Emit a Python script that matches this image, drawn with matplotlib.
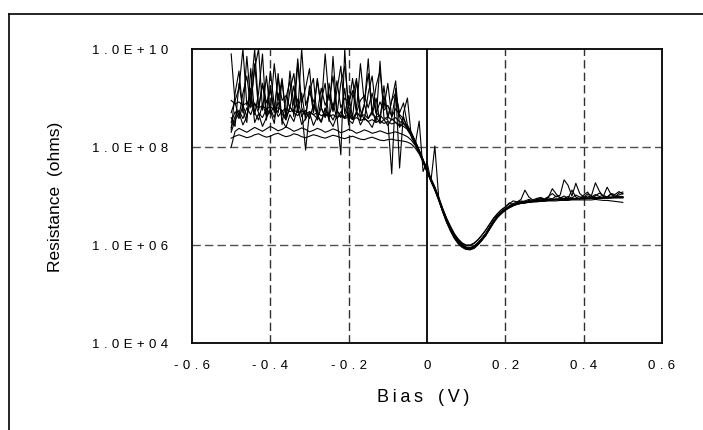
import matplotlib.pyplot as plt
import numpy as np
from matplotlib.lines import Line2D
from matplotlib.ticker import NullLocator

plt.rcParams['font.family'] = ['Liberation Sans', 'DejaVu Sans']

# bias sweep, 0.01 V steps
bias = np.linspace(-0.5, 0.5, 101)

# log10(resistance / ohms) of each sweep
sweep_1 = [8.18, 8.22, 8.25, 8.22, 8.19, 8.21, 8.25, 8.27, 8.23, 8.20,
           8.22, 8.26, 8.28, 8.24, 8.21, 8.23, 8.27, 8.25, 8.21, 8.19,
           8.22, 8.25, 8.23, 8.20, 8.18, 8.21, 8.24, 8.22, 8.19, 8.17,
           8.20, 8.22, 8.19, 8.16, 8.15, 8.18, 8.20, 8.17, 8.14, 8.13,
           8.15, 8.16, 8.14, 8.13, 8.12, 8.10, 8.06, 7.98, 7.86, 7.70,
           7.52, 7.34, 7.16, 6.95, 6.72, 6.52, 6.35, 6.20, 6.09, 6.01,
           5.96, 5.95, 5.98, 6.05, 6.14, 6.24, 6.37, 6.49, 6.60, 6.68,
           6.74, 6.78, 6.82, 6.84, 6.85, 6.86, 6.87, 6.88, 6.88, 6.89,
           6.89, 6.90, 6.90, 6.90, 6.91, 6.91, 6.91, 6.92, 6.92, 6.92,
           6.92, 6.92, 6.92, 6.93, 6.92, 6.91, 6.91, 6.90, 6.89, 6.88,
           6.87]
sweep_2 = [8.00, 8.32, 8.38, 8.34, 8.30, 8.35, 8.40, 8.36, 8.32, 8.37,
           8.42, 8.38, 8.33, 8.36, 8.41, 8.37, 8.32, 8.35, 8.39, 8.36,
           8.31, 8.34, 8.38, 8.35, 8.30, 8.33, 8.37, 8.34, 8.29, 8.32,
           8.36, 8.33, 8.28, 8.31, 8.35, 8.32, 8.28, 8.30, 8.33, 8.30,
           8.27, 8.29, 8.31, 8.28, 8.25, 8.21, 8.14, 8.03, 7.88, 7.70,
           7.50, 7.31, 7.13, 6.92, 6.69, 6.49, 6.32, 6.17, 6.06, 5.98,
           5.93, 5.92, 5.95, 6.02, 6.11, 6.21, 6.34, 6.47, 6.58, 6.66,
           6.72, 6.77, 6.81, 6.84, 6.86, 6.87, 6.88, 6.89, 6.90, 6.91,
           6.92, 6.92, 6.93, 6.93, 6.94, 6.94, 6.94, 6.95, 6.95, 6.95,
           6.96, 6.96, 6.96, 6.97, 6.97, 6.97, 6.98, 6.98, 6.98, 6.99,
           6.99]
sweep_3 = [8.95, 8.88, 8.92, 8.85, 8.90, 8.83, 8.87, 8.80, 8.84, 8.78,
           8.82, 8.76, 8.80, 8.74, 8.78, 8.72, 8.76, 8.70, 8.74, 8.68,
           8.72, 8.66, 8.70, 8.64, 8.68, 8.62, 8.66, 8.60, 8.64, 8.58,
           8.62, 8.56, 8.60, 8.54, 8.58, 8.52, 8.56, 8.50, 8.54, 8.48,
           8.52, 8.47, 8.50, 8.45, 8.42, 8.36, 8.25, 8.10, 7.93, 7.74,
           7.54, 7.35, 7.17, 6.95, 6.72, 6.51, 6.34, 6.19, 6.08, 6.00,
           5.95, 5.94, 5.97, 6.04, 6.13, 6.23, 6.36, 6.49, 6.60, 6.68,
           6.74, 6.79, 6.83, 6.85, 6.87, 6.88, 6.89, 6.90, 6.91, 6.92,
           6.92, 6.93, 6.93, 6.94, 6.94, 6.94, 6.95, 6.95, 6.95, 6.95,
           6.96, 6.96, 6.96, 6.96, 6.97, 6.97, 6.97, 6.97, 6.98, 6.98,
           6.98]
sweep_4 = [9.90, 8.90, 8.62, 9.10, 9.45, 8.80, 9.70, 8.75, 9.30, 8.66,
           9.55, 8.85, 8.70, 9.35, 8.60, 9.15, 9.50, 8.76, 9.10, 8.55,
           9.25, 8.70, 9.40, 8.80, 8.60, 9.30, 8.72, 9.15, 9.65, 8.68,
           9.05, 8.60, 9.35, 8.75, 8.55, 9.10, 9.45, 8.70, 8.62, 9.05,
           8.58, 8.95, 9.10, 8.62, 8.50, 8.38, 8.24, 8.08, 7.90, 7.70,
           7.49, 7.30, 7.12, 6.91, 6.68, 6.47, 6.30, 6.15, 6.04, 5.96,
           5.91, 5.90, 5.93, 6.00, 6.09, 6.19, 6.32, 6.45, 6.56, 6.64,
           6.71, 6.76, 6.80, 6.83, 6.85, 6.86, 6.87, 6.88, 6.89, 6.90,
           6.91, 6.91, 6.92, 6.92, 6.93, 6.93, 6.93, 6.94, 6.94, 6.94,
           6.94, 6.95, 6.95, 6.95, 6.95, 6.96, 6.96, 6.96, 6.97, 6.97,
           6.97]
sweep_5 = [8.35, 9.10, 9.55, 8.70, 9.85, 8.90, 9.60, 10.0, 8.75, 9.45,
           8.70, 9.70, 8.95, 9.40, 8.60, 9.55, 8.85, 9.80, 8.90, 9.20,
           9.60, 8.70, 9.35, 8.80, 9.90, 8.95, 9.45, 8.65, 9.30, 9.65,
           8.85, 9.40, 8.75, 9.70, 8.90, 9.50, 8.70, 9.25, 9.55, 8.80,
           9.30, 8.60, 9.10, 8.70, 8.90, 8.45, 8.30, 8.12, 7.93, 7.74,
           7.55, 7.36, 7.19, 6.98, 6.75, 6.55, 6.38, 6.23, 6.12, 6.04,
           6.00, 6.00, 6.04, 6.11, 6.20, 6.30, 6.42, 6.54, 6.64, 6.72,
           6.78, 6.84, 6.90, 6.88, 6.93, 7.12, 6.98, 6.92, 6.95, 6.97,
           6.94, 6.99, 7.05, 6.98, 7.02, 7.33, 7.22, 7.00, 7.26, 7.05,
           6.98, 7.04, 7.01, 7.27, 7.10, 6.99, 7.18, 7.03, 6.97, 7.06,
           7.08]
sweep_6 = [8.60, 8.42, 9.30, 8.75, 8.50, 9.60, 8.66, 9.10, 9.90, 8.55,
           9.25, 8.70, 9.50, 8.46, 9.00, 9.35, 8.62, 9.70, 8.80, 8.65,
           9.15, 9.40, 8.55, 8.95, 9.30, 8.52, 9.85, 8.75, 8.60, 9.20,
           8.45, 9.05, 9.40, 8.56, 8.85, 9.80, 8.65, 9.00, 8.50, 9.25,
           8.60, 8.95, 9.35, 8.40, 8.62, 8.35, 8.22, 8.06, 7.90, 7.70,
           7.51, 7.32, 7.14, 6.92, 6.68, 6.46, 6.28, 6.13, 6.02, 5.95,
           5.91, 5.91, 5.94, 6.01, 6.10, 6.20, 6.33, 6.46, 6.57, 6.65,
           6.71, 6.76, 6.80, 6.83, 6.85, 6.86, 6.88, 6.89, 6.90, 6.91,
           6.91, 6.92, 6.92, 6.93, 6.93, 6.93, 6.94, 6.94, 6.94, 6.95,
           6.95, 6.95, 6.95, 6.96, 6.96, 6.96, 6.96, 6.97, 6.97, 6.97,
           6.97]
sweep_7 = [8.50, 8.72, 8.58, 8.85, 8.62, 8.95, 8.70, 8.55, 8.88, 8.64,
           8.78, 8.60, 8.92, 8.68, 8.55, 8.82, 8.70, 8.98, 8.62, 8.75,
           8.58, 8.86, 8.66, 8.52, 8.80, 8.64, 8.90, 8.58, 8.72, 8.60,
           8.84, 8.56, 8.70, 8.62, 8.88, 8.58, 8.74, 8.50, 9.75, 8.60,
           8.55, 7.45, 9.20, 7.57, 8.70, 9.00, 8.20, 8.05, 8.53, 7.50,
           7.70, 7.30, 8.02, 6.95, 6.74, 6.54, 6.37, 6.22, 6.11, 6.03,
           5.99, 5.99, 6.03, 6.10, 6.20, 6.31, 6.43, 6.55, 6.64, 6.72,
           6.77, 6.86, 6.82, 6.87, 6.90, 6.88, 6.91, 6.89, 6.93, 6.96,
           6.92, 6.97, 7.15, 7.04, 6.96, 7.00, 6.95, 7.12, 6.98, 6.94,
           7.02, 7.08, 6.97, 7.00, 7.06, 7.01, 6.98, 7.05, 7.03, 7.09,
           7.04]
sweep_8 = [8.40, 8.62, 8.75, 8.58, 8.80, 8.66, 8.90, 8.70, 8.60, 8.78,
           8.68, 8.85, 8.62, 8.74, 8.58, 8.82, 8.70, 8.64, 8.76, 7.94,
           8.72, 8.66, 8.58, 8.80, 8.62, 8.70, 8.55, 8.74, 8.64, 8.60,
           8.68, 8.56, 8.72, 8.62, 8.66, 8.58, 8.70, 8.60, 8.65, 8.56,
           8.62, 8.55, 8.60, 8.52, 8.48, 8.40, 8.28, 8.12, 7.94, 7.74,
           7.53, 7.34, 7.15, 6.94, 6.71, 6.50, 6.33, 6.18, 6.07, 5.99,
           5.94, 5.93, 5.96, 6.03, 6.12, 6.22, 6.35, 6.48, 6.59, 6.67,
           6.73, 6.78, 6.82, 6.84, 6.86, 6.87, 6.88, 6.89, 6.90, 6.91,
           6.92, 6.92, 6.93, 6.93, 6.93, 6.94, 6.94, 6.94, 6.94, 6.95,
           6.95, 6.95, 6.95, 6.95, 6.96, 6.96, 6.96, 6.96, 6.96, 6.96,
           6.96]
sweep_9 = [8.30, 8.55, 8.70, 8.45, 8.62, 9.20, 8.50, 8.68, 8.42, 8.60,
           8.75, 8.48, 9.10, 8.55, 8.40, 8.66, 8.52, 8.80, 8.46, 8.58,
           8.70, 8.44, 8.62, 8.50, 8.78, 8.56, 8.42, 8.64, 7.84, 10.0,
           8.55, 8.48, 8.70, 8.45, 8.60, 8.52, 8.40, 8.62, 8.48, 8.56,
           8.44, 8.58, 8.50, 8.42, 8.48, 8.38, 8.26, 8.10, 7.93, 7.72,
           7.52, 7.33, 7.15, 6.94, 6.71, 6.50, 6.33, 6.18, 6.07, 5.99,
           5.94, 5.93, 5.96, 6.03, 6.12, 6.22, 6.35, 6.48, 6.59, 6.67,
           6.73, 6.80, 6.85, 6.87, 6.88, 6.90, 6.93, 6.91, 6.92, 6.94,
           6.93, 6.96, 6.94, 7.00, 6.97, 6.95, 6.99, 6.96, 7.02, 6.98,
           6.97, 7.00, 6.98, 7.03, 6.99, 7.01, 6.97, 7.04, 7.00, 7.02,
           7.05]
sweep_10 = [8.70, 8.95, 9.20, 10.0, 8.85, 9.10, 10.0, 8.80, 9.30, 8.90,
            9.15, 8.75, 9.40, 8.95, 9.05, 8.80, 9.25, 8.70, 10.0, 8.85,
            9.10, 8.95, 8.70, 9.20, 8.85, 9.05, 8.75, 9.35, 8.80, 9.00,
            8.90, 9.15, 8.70, 8.95, 9.05, 8.80, 9.10, 8.68, 8.92, 8.75,
            8.85, 8.62, 8.78, 8.66, 8.58, 8.42, 8.28, 8.10, 7.91, 7.71,
            7.50, 7.31, 7.13, 6.92, 6.69, 6.48, 6.31, 6.16, 6.05, 5.97,
            5.92, 5.91, 5.94, 6.01, 6.10, 6.20, 6.33, 6.46, 6.57, 6.65,
            6.72, 6.77, 6.81, 6.84, 6.86, 6.87, 6.88, 6.89, 6.90, 6.91,
            6.91, 6.92, 6.92, 6.93, 6.93, 6.94, 6.94, 6.94, 6.95, 6.95,
            6.95, 6.95, 6.96, 6.96, 6.96, 6.96, 6.97, 6.97, 6.97, 6.97,
            6.97]

sweeps = [sweep_1, sweep_2, sweep_3, sweep_4, sweep_5,
          sweep_6, sweep_7, sweep_8, sweep_9, sweep_10]

x_ticks = [-0.6, -0.4, -0.2, 0, 0.2, 0.4, 0.6]
x_tick_labels = ['-0.6', '-0.4', '-0.2', '0', '0.2', '0.4', '0.6']
y_ticks = [1e4, 1e6, 1e8, 1e10]
y_tick_labels = ['1.0E+04', '1.0E+06', '1.0E+08', '1.0E+10']
x_grid = [-0.4, -0.2, 0.2, 0.4]
y_grid = [1e6, 1e8]


def spaced(s, gap='\u2004'):
    # excel-ish wide letter spacing
    return gap.join(s)


W, H = 703, 430
fig = plt.figure(figsize=(W / 100, H / 100), dpi=100)
ax = fig.add_axes([192 / W, 1 - 343 / H, 470 / W, 294 / H])

for s in sweeps:
    ax.plot(bias, 10 ** np.array(s), color='black', lw=0.8, zorder=3)

ax.set_yscale('log')
ax.set_xlim(-0.6, 0.6)
ax.set_ylim(1e4, 1e10)

for x in x_grid:
    ax.axvline(x, color='#303030', lw=1.0, ls=(0, (6, 3)), zorder=1)
for y in y_grid:
    ax.axhline(y, color='#505050', lw=1.0, ls=(0, (6, 3)), zorder=1)
ax.axvline(0, color='black', lw=1.3, zorder=2)

ax.set_xticks(x_ticks)
ax.set_xticklabels([spaced(t) for t in x_tick_labels], fontsize=9.5)
ax.set_yticks(y_ticks)
ax.set_yticklabels([spaced(t) for t in y_tick_labels], fontsize=9.5)
ax.yaxis.set_minor_locator(NullLocator())
ax.tick_params(axis='x', length=0, pad=12)
ax.tick_params(axis='y', length=0, pad=17)

for sp in ax.spines.values():
    sp.set_linewidth(1.3)

fig.text(56 / W, 1 - 197 / H, 'Resistance  (ohms)', rotation=90,
         ha='center', va='center', fontsize=12.5)
fig.text(423 / W, 1 - 397 / H, spaced('Bias', '\u2009') + '   ' + spaced('(V)', '\u2009'),
         ha='center', va='center', fontsize=13)

# chart area border (right and bottom edges fall outside the image)
fig.add_artist(Line2D([9 / W, 9 / W], [0, 1 - 13.5 / H],
                      transform=fig.transFigure, color='black', lw=1.2))
fig.add_artist(Line2D([9 / W, 1], [1 - 13.5 / H, 1 - 13.5 / H],
                      transform=fig.transFigure, color='black', lw=1.2))

fig.savefig('out.png', dpi=100)
